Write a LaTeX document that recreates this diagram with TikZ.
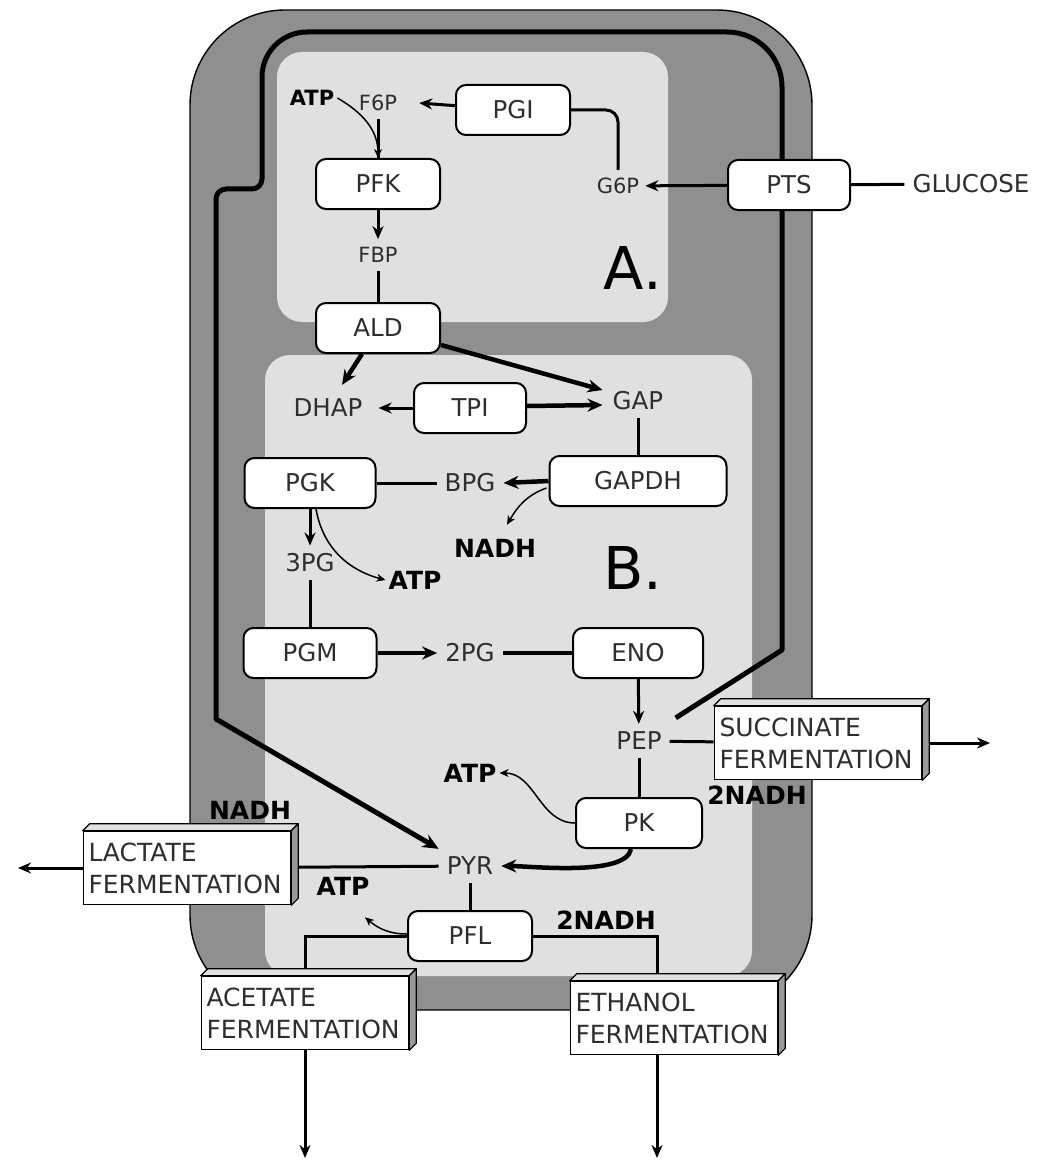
\documentclass[tikz,border=0pt]{standalone}
\usepackage{fontspec}
\setmainfont{DejaVu Sans}
\usetikzlibrary{arrows.meta,calc}
\definecolor{cellgray}{HTML}{8F8F8F}
\definecolor{regiongray}{HTML}{E0E0E0}
\definecolor{txtgray}{HTML}{2E2E2E}
\pgfdeclarelayer{bg}
\pgfdeclarelayer{mid}
\pgfsetlayers{bg,mid,main}
\newcommand\fermdepth[1]{%
  \filldraw[fill=black!12, draw=black, line width=1.2pt, line join=round] (#1.north west) -- ++(7,7) -- ($(#1.north east)+(7,7)$) -- (#1.north east) -- cycle;
  \filldraw[fill=black!40, draw=black, line width=1.2pt, line join=round] (#1.north east) -- ++(7,7) -- ($(#1.south east)+(7,7)$) -- (#1.south east) -- cycle;}
\begin{document}
\begin{tikzpicture}[x=1pt,y=1pt,
  enz/.style={draw=black, line width=2pt, fill=white, rounded corners=10pt, minimum height=50pt, inner sep=0pt, text=txtgray, font=\fontsize{24.5}{28}\selectfont},
  met/.style={inner xsep=8pt, inner ysep=8pt, text=txtgray, font=\fontsize{24.5}{28}\selectfont},
  smet/.style={inner xsep=6pt, inner ysep=8pt, text=txtgray, font=\fontsize{21}{25}\selectfont},
  cof/.style={inner sep=3pt, font=\bfseries\fontsize{25}{29}\selectfont},
  scof/.style={inner sep=3pt, font=\bfseries\fontsize{21}{25}\selectfont},
  big/.style={inner sep=0pt, font=\fontsize{59}{65}\selectfont},
  ferm/.style={draw=black, line width=1.6pt, fill=white, align=left, text width=197pt, minimum height=73pt, inner xsep=5pt, inner ysep=0pt, text=txtgray, font=\fontsize{25}{32}\selectfont},
  link/.style={line width=3pt},
  tlink/.style={line width=4.5pt},
  arr/.style={line width=3pt, -{Stealth[length=13pt,width=11pt]}},
  tarr/.style={line width=4.5pt, -{Stealth[length=15pt,width=13pt]}},
  carr/.style={line width=1.5pt, -{Stealth[length=9pt,width=8pt]}},
  membrane/.style={line width=5pt, line join=round},
]
\useasboundingbox (0,0) rectangle (1046,-1161);

% enzymes
\node[enz, minimum width=114pt] (PGI) at (513,-110) {PGI};
\node[enz, minimum width=124pt] (PFK) at (378,-184) {PFK};
\node[enz, minimum width=122pt] (PTS) at (789,-185) {PTS};
\node[enz, minimum width=124pt] (ALD) at (378,-328) {ALD};
\node[enz, minimum width=112pt] (TPI) at (470,-408) {TPI};
\node[enz, minimum width=177pt] (GAPDH) at (638,-481) {GAPDH};
\node[enz, minimum width=131pt] (PGK) at (310,-483) {PGK};
\node[enz, minimum width=133pt] (PGM) at (310,-653) {PGM};
\node[enz, minimum width=130pt] (ENO) at (638,-653) {ENO};
\node[enz, minimum width=126pt] (PK) at (639,-823) {PK};
\node[enz, minimum width=124pt] (PFL) at (470,-936) {PFL};

% metabolites
\node[smet] (F6P) at (378,-103) {F6P};
\node[smet] (G6P) at (618,-186) {G6P};
\node[smet] (FBP) at (378,-255) {FBP};
\node[met] (GLC) at (971,-184) {GLUCOSE};
\node[met] (DHAP) at (328,-408) {DHAP};
\node[met] (GAP) at (638,-401) {GAP};
\node[met] (BPG) at (470,-483) {BPG};
\node[met] (3PG) at (310,-563) {3PG};
\node[met] (2PG) at (470,-653) {2PG};
\node[met] (PEP) at (639,-741) {PEP};
\node[met] (PYR) at (470,-866) {PYR};

% cofactors
\node[scof] (atpA) at (312,-98) {ATP};
\node[cof] (nadhA) at (495,-548) {NADH};
\node[cof] (atpB) at (415,-580) {ATP};
\node[cof] (atpC) at (470,-773) {ATP};
\node[cof] (nadhC) at (757,-795) {2NADH};
\node[cof] (nadhD) at (250,-810) {NADH};
\node[cof] (atpD) at (343,-886) {ATP};
\node[cof] (nadhE) at (606,-920) {2NADH};

% region labels
\node[big] (labA) at (633,-268) {A.};
\node[big] (labB) at (633,-568) {B.};

% fermentation boxes
\node[ferm] (SUC) at (818,-743) {SUCCINATE\\FERMENTATION};
\node[ferm] (LAC) at (187,-868) {LACTATE\\FERMENTATION};
\node[ferm] (ACE) at (305,-1013) {ACETATE\\FERMENTATION};
\node[ferm] (ETH) at (674,-1018) {ETHANOL\\FERMENTATION};

\coordinate (sucout) at (990,-743);
\coordinate (lacout) at (18,-868);
\coordinate (aceout) at (305,-1158);
\coordinate (ethout) at (657,-1158);

% connectors
\draw[link] (GLC) -- (PTS);
\draw[arr] (PTS) -- (G6P);
\draw[link, rounded corners=12pt] (G6P.north) |- (PGI.east);
\draw[arr] (PGI) -- ($(F6P.east)+(16,0)$);
\draw[link] (F6P) -- (PFK);
\draw[carr] (atpA.east) to[out=-30,in=90] (PFK.north);
\draw[arr] (PFK) -- (FBP);
\draw[link] (FBP) -- (ALD);
\draw[tarr] ($(ALD.south)+(-16,0)$) -- ($(DHAP.north)+(14,6)$);
\draw[tarr] ($(ALD.east)+(0,-17)$) -- ($(GAP.west)+(-2,11)$);
\draw[arr] (TPI.west) -- ($(DHAP.east)+(8,0)$);
\draw[tarr] ($(TPI.east)+(0,2)$) -- ($(GAP.west)+(-2,-4)$);
\draw[link] (GAP) -- (GAPDH);
\draw[tarr] (GAPDH.west) -- (BPG.east);
\draw[carr] ($(GAPDH.west)+(-2,-7)$) to[out=200,in=60] ($(nadhA.north)+(12,11)$);
\draw[link] (BPG) -- (PGK);
\draw[arr] (PGK.south) -- (3PG.north);
\draw[carr] ($(PGK.south)+(6,0)$) to[out=-80,in=165] (atpB.west);
\draw[link] (3PG) -- (PGM);
\draw[tarr] (PGM) -- (2PG);
\draw[tlink] (2PG) -- (ENO);
\draw[arr] (ENO) -- (PEP);
\draw[link] (PEP) -- (PK);
\draw[carr] (PK.west) to[out=180,in=0] (atpC.east);
\draw[tarr] ($(PK.south)+(-8,0)$) to[out=-100,in=0,looseness=0.55] (PYR.east);
\draw[link] (PEP) -- (SUC);
\draw[arr] (SUC.east) -- (sucout);
\draw[link] (PYR) -- (LAC);
\draw[arr] (LAC) -- (lacout);
\draw[link] (PYR) -- (PFL);
\draw[carr] ($(PFL.west)+(0,2)$) to[out=180,in=-40] ($(atpD.south)+(22,-19)$);
\draw[link] (PFL.west) -| (ACE.north);
\draw[arr] (ACE) -- (aceout);
\draw[link] (PFL.east) -| ($(ETH.north)+(-17,0)$);
\draw[arr] ($(ETH.south)+(-17,0)$) -- (ethout);

\fermdepth{SUC}
\fermdepth{LAC}
\fermdepth{ACE}
\fermdepth{ETH}

\begin{pgfonlayer}{mid}
\draw[membrane, -{Stealth[length=16pt,width=14pt]}] ($(PEP.north east)+(6,6)$) -- (782,-650) -- (782,-87)
  arc[start angle=0, end angle=90, radius=55] -- (307,-32)
  arc[start angle=90, end angle=180, radius=45] -- (262,-179)
  arc[start angle=0, end angle=-90, radius=10] -- (226,-189)
  arc[start angle=90, end angle=180, radius=10] -- (216,-719) -- (PYR.north west);
\end{pgfonlayer}

\begin{pgfonlayer}{bg}
\filldraw[fill=cellgray, draw=black, line width=1.4pt, rounded corners=95pt] (190,-10) rectangle (812,-1010);
\fill[regiongray, rounded corners=25pt] (277,-52) rectangle (668,-322);
\fill[regiongray, rounded corners=25pt] (265,-355) rectangle (752,-976);
\end{pgfonlayer}
\end{tikzpicture}
\end{document}
